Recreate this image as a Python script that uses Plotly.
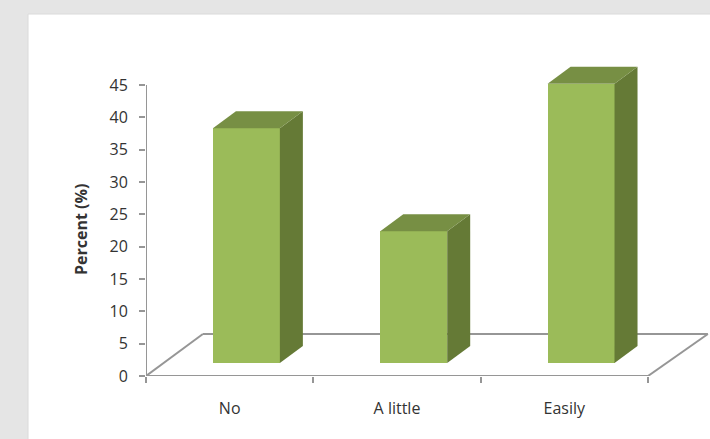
import plotly.graph_objects as go

categories = ["No", "A little", "Easily"]
percent = [36.3, 20.4, 43.2]
y_ticks = [0, 5, 10, 15, 20, 25, 30, 35, 40, 45]

FRONT, SIDE, TOP = "#9BBB59", "#657A36", "#778F44"
AXIS = "#969696"
TEXT = "#333333"
FONT = "Open Sans"

# Oblique projection used for the box faces, in axis units
bar_shift = 0.1
bar_width = 0.4
base = 2.0
depth_x = 0.1375
depth_y = 2.63
floor_left = 0.34
floor_right = 3.358
floor_y = 6.5

fig = go.Figure()

centers = [i + 0.5 + bar_shift for i in range(len(categories))]
fig.add_trace(go.Bar(
    x=centers, y=percent, base=[base] * len(percent), width=bar_width,
    marker=dict(color=FRONT, line=dict(width=0)), showlegend=False,
))

for c, v in zip(centers, percent):
    left, right = c - bar_width / 2, c + bar_width / 2
    top = base + v
    fig.add_trace(go.Scatter(
        x=[right, right + depth_x, right + depth_x, right, right],
        y=[base, base + depth_y, top + depth_y, top, base],
        mode="lines", fill="toself", fillcolor=SIDE,
        line=dict(width=0), showlegend=False, hoverinfo="skip",
    ))
    fig.add_trace(go.Scatter(
        x=[left, right, right + depth_x, left + depth_x, left],
        y=[top, top, top + depth_y, top + depth_y, top],
        mode="lines", fill="toself", fillcolor=TOP,
        line=dict(width=0), showlegend=False, hoverinfo="skip",
    ))

axis_line = dict(color=AXIS, width=2)
shapes = [
    # Page panel
    dict(type="rect", xref="paper", yref="paper", x0=-118 / 564, x1=1.02,
         y0=-0.2, y1=362 / 376, fillcolor="white",
         line=dict(color="#DADADA", width=1), layer="below"),
    # Floor outline
    dict(type="line", xref="x", yref="y", x0=0, y0=0, x1=floor_left, y1=floor_y,
         line=axis_line, layer="below"),
    dict(type="line", xref="x", yref="y", x0=floor_left, y0=floor_y, x1=floor_right, y1=floor_y,
         line=axis_line, layer="below"),
    dict(type="line", xref="x", yref="y", x0=3, y0=0, x1=floor_right, y1=floor_y,
         line=axis_line, layer="below"),
    # Axis lines
    dict(type="line", xref="x", yref="y", x0=0, y0=0, x1=0, y1=45,
         line=axis_line, layer="below"),
    dict(type="line", xref="x", yref="y", x0=0, y0=0, x1=3, y1=0,
         line=axis_line, layer="below"),
]

fig.update_layout(
    width=710, height=439,
    margin=dict(l=146, r=0, t=0, b=63),
    paper_bgcolor="#E5E5E5",
    plot_bgcolor="rgba(0,0,0,0)",
    shapes=shapes,
    bargap=0,
    font=dict(family=FONT, color=TEXT, size=16),
    # The axis title sits centred on the 0-45 scale rather than the full plot height
    annotations=[dict(
        text="<b>Percent (%)</b>", textangle=-90, showarrow=False,
        xref="paper", yref="paper", x=-65 / 564, y=146 / 376,
        xanchor="center", yanchor="middle", font=dict(size=16),
    )],
    xaxis=dict(
        range=[0, 564 / 167.33],
        tickmode="array",
        tickvals=[i + 0.5 for i in range(len(categories))],
        ticktext=categories,
        ticks="", showgrid=False, zeroline=False, showline=False,
        ticklabelstandoff=21,
        tickfont=dict(size=16),
        minor=dict(tickmode="array", tickvals=[0, 1, 2, 3], ticks="outside",
                   ticklen=6, tickwidth=1.5, tickcolor=AXIS, showgrid=False),
    ),
    yaxis=dict(
        range=[0, 376 / 6.467],
        tickmode="array", tickvals=y_ticks,
        ticks="outside", ticklen=6, tickwidth=1.5, tickcolor=AXIS,
        ticklabelstandoff=8,
        showgrid=False, zeroline=False, showline=False,
    ),
)

fig.write_html("out.html", config=dict(displayModeBar=False))
